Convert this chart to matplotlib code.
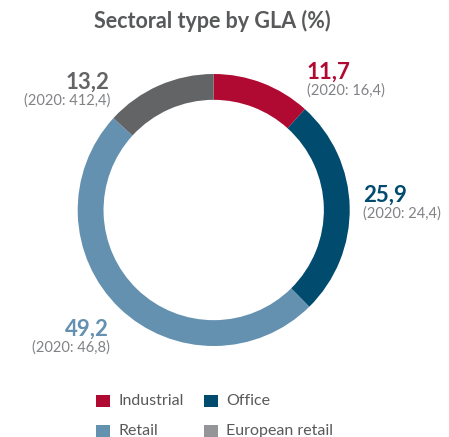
import matplotlib
matplotlib.use('Agg')
import matplotlib.pyplot as plt
from matplotlib.patches import Rectangle

# Данные
sectors = ['Industrial', 'Office', 'Retail', 'European retail']
shares = [11.7, 25.9, 49.2, 13.2]
prev_labels = ['16,4', '24,4', '46,8', '412,4']
colors = ['#B00A33', '#004B6E', '#6591B0', '#636466']
legend_colors = ['#B00A33', '#004B6E', '#6591B0', '#939598']

plt.rcParams['font.family'] = ['Lato', 'DejaVu Sans']

W, H = 449, 437
fig = plt.figure(figsize=(W / 100, H / 100), dpi=100)

def px(x, y):
    # пиксели от левого верхнего угла -> доли фигуры
    return x / W, 1 - y / H

# Кольцевая диаграмма
cx, cy, r = 213.7, 210, 136
ax = fig.add_axes([(cx - r) / W, (H - cy - r) / H, 2 * r / W, 2 * r / H])
ax.pie(shares, colors=colors, startangle=90, counterclock=False,
       radius=1, wedgeprops=dict(width=0.19, linewidth=0))
ax.set_xlim(-1, 1)
ax.set_ylim(-1, 1)
ax.set_aspect('equal')
ax.axis('off')

fig.text(*px(212, 21), 'Sectoral type by GLA (%)', ha='center', va='center',
         fontsize=15.5, fontweight='bold', color='#58595B')

# Подписи: (x, y значения, выравнивание)
label_pos = [(307, 79, 'left'), (363, 202, 'left'), (109, 336, 'right'), (109, 89, 'right')]
for (x, y, ha), val, prev, col in zip(label_pos, shares, prev_labels, colors):
    fig.text(*px(x, y), f'{val:.1f}'.replace('.', ','), ha=ha, va='baseline',
             fontsize=16, fontweight='bold', color=col)
    fig.text(*px(x + (1 if ha == 'right' else 0), y + 16), f'(2020: {prev})', ha=ha,
             va='baseline', fontsize=10.5, color='#808285')

# Легенда
leg_pos = [(96, 395), (204, 395), (96, 425), (204, 425)]
for (x, y), name, col in zip(leg_pos, sectors, legend_colors):
    fx, fy = px(x, y + 12)
    fig.patches.append(Rectangle((fx, fy), 14 / W, 12 / H, transform=fig.transFigure,
                                 facecolor=col, edgecolor='none'))
    fig.text(*px(x + 22, y + 6), name, ha='left', va='center',
             fontsize=11.5, color='#58595B')

fig.savefig('out.png', dpi=100)
